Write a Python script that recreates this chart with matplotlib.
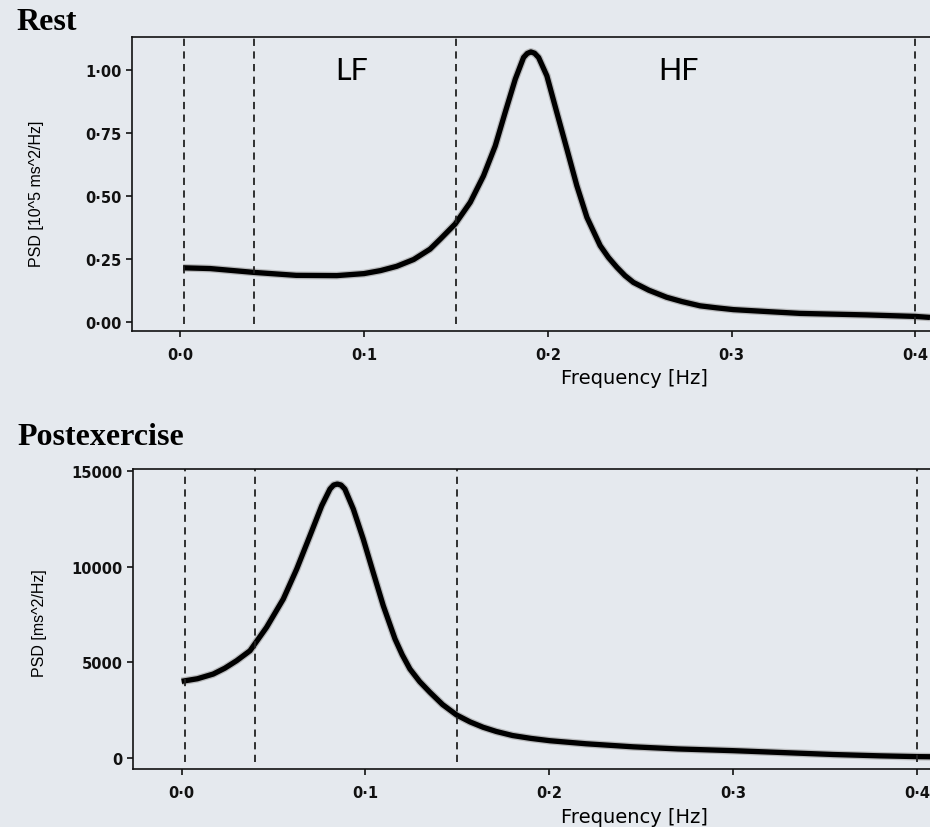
import matplotlib
matplotlib.use("Agg")
import matplotlib.pyplot as plt
import matplotlib.patheffects as pe

# spectra read at rest and after exercise
rest_freq = [0.0015, 0.0163, 0.0397, 0.0631, 0.0852, 0.100, 0.109, 0.1178, 0.127,
             0.1359, 0.1415, 0.1496, 0.1578, 0.165, 0.1714, 0.1768, 0.1823, 0.1868,
             0.1888, 0.1908, 0.1928, 0.195, 0.1995, 0.2049, 0.2104, 0.2158, 0.2213,
             0.2285, 0.233, 0.2376, 0.242, 0.2466, 0.255, 0.2647, 0.273, 0.2829,
             0.292, 0.301, 0.320, 0.3373, 0.3735, 0.400, 0.408]
rest_psd = [0.214, 0.211, 0.196, 0.184, 0.183, 0.191, 0.203, 0.220, 0.247,
            0.288, 0.328, 0.388, 0.474, 0.579, 0.698, 0.831, 0.963, 1.049,
            1.065, 1.071, 1.066, 1.049, 0.976, 0.831, 0.685, 0.540, 0.414,
            0.302, 0.255, 0.216, 0.183, 0.156, 0.125, 0.097, 0.080, 0.063,
            0.055, 0.048, 0.040, 0.033, 0.027, 0.021, 0.017]

post_freq = [0.0, 0.0086, 0.0172, 0.0235, 0.0299, 0.0372, 0.0462, 0.0553, 0.0626,
             0.0698, 0.0762, 0.0807, 0.0827, 0.0847, 0.0867, 0.0888, 0.0934, 0.0988,
             0.1042, 0.1097, 0.1161, 0.120, 0.1242, 0.1295, 0.1351, 0.142, 0.1496,
             0.1569, 0.164, 0.1712, 0.180, 0.190, 0.2004, 0.220, 0.2457, 0.270,
             0.3001, 0.330, 0.3545, 0.380, 0.400, 0.4073]
post_psd = [4015, 4150, 4395, 4700, 5089, 5610, 6830, 8306, 9870,
            11606, 13170, 14041, 14250, 14301, 14250, 14041, 12998, 11434,
            9698, 7956, 6220, 5400, 4656, 4000, 3441, 2800, 2260,
            1900, 1620, 1400, 1190, 1040, 918, 760, 600, 490,
            400, 290, 200, 130, 90, 83]

band_edges = [0.002, 0.04, 0.15, 0.4]
band_names = ["LF", "HF"]
band_label_x = [0.093, 0.271]

rest_yticks = [0.0, 0.25, 0.5, 0.75, 1.0]
rest_yticklabels = ["0·00", "0·25", "0·50", "0·75", "1·00"]
post_yticks = [0, 5000, 10000, 15000]
post_yticklabels = ["0", "5000", "10000", "15000"]
xticks = [0.0, 0.1, 0.2, 0.3, 0.4]
xticklabels = ["0·0", "0·1", "0·2", "0·3", "0·4"]

bg = "#e5e9ee"
fig = plt.figure(figsize=(9.30, 8.28), dpi=100, facecolor=bg)

ax_rest = fig.add_axes([0.1423, 0.599, 0.8577, 0.355])
ax_post = fig.add_axes([0.1433, 0.070, 0.8567, 0.3623])


def style_axes(ax, yticks, yticklabels, ylabel):
    ax.set_facecolor(bg)
    ax.spines["right"].set_visible(False)
    for side in ["top", "left", "bottom"]:
        ax.spines[side].set_linewidth(1.2)
        ax.spines[side].set_color("#111111")
    ax.set_xticks(xticks)
    ax.set_xticklabels(xticklabels, fontweight="bold")
    ax.set_yticks(yticks)
    ax.set_yticklabels(yticklabels, fontweight="bold")
    ax.tick_params(axis="both", direction="out", length=4.5, width=1.2,
                   labelsize=10.5, colors="#111111")
    ax.tick_params(axis="x", pad=7)
    ax.tick_params(axis="y", pad=3)
    ax.set_xlabel("Frequency [Hz]", fontsize=14)
    ax.xaxis.set_label_coords(0.629, -0.125)
    ax.set_ylabel(ylabel, fontsize=11.5, family="Liberation Sans")
    for x in band_edges:
        ax.axvline(x, ymin=0.024, ymax=1, color="#222222", lw=1.3,
                   ls=(0, (4, 3)))


halo = [pe.Stroke(linewidth=5.6, foreground="#9a9a9a", alpha=0.6), pe.Normal()]

ax_rest.plot(rest_freq, rest_psd, color="black", lw=3.8, solid_capstyle="butt",
             solid_joinstyle="round", path_effects=halo)
ax_rest.set_xlim(-0.0261, 0.408)
ax_rest.set_ylim(-0.037, 1.130)
style_axes(ax_rest, rest_yticks, rest_yticklabels, "PSD [10^5 ms^2/Hz]")
ax_rest.yaxis.set_label_coords(-0.111, 0.47)
for name, x in zip(band_names, band_label_x):
    ax_rest.text(x, 1.0, name, fontsize=22, family="Lato", ha="center",
                 va="center", color="black")

ax_post.plot(post_freq, post_psd, color="black", lw=3.8, solid_capstyle="butt",
             solid_joinstyle="round", path_effects=halo)
ax_post.set_xlim(-0.0263, 0.4071)
ax_post.set_ylim(-558, 15083)
style_axes(ax_post, post_yticks, post_yticklabels, "PSD [ms^2/Hz]")
ax_post.yaxis.set_label_coords(-0.108, 0.49)

fig.text(0.018, 0.964, "Rest", fontsize=23, family="Liberation Serif",
         weight="bold", ha="left", va="baseline")
fig.text(0.019, 0.4625, "Postexercise", fontsize=23, family="Liberation Serif",
         weight="bold", ha="left", va="baseline")

fig.savefig("out.png", dpi=100, facecolor=bg)
